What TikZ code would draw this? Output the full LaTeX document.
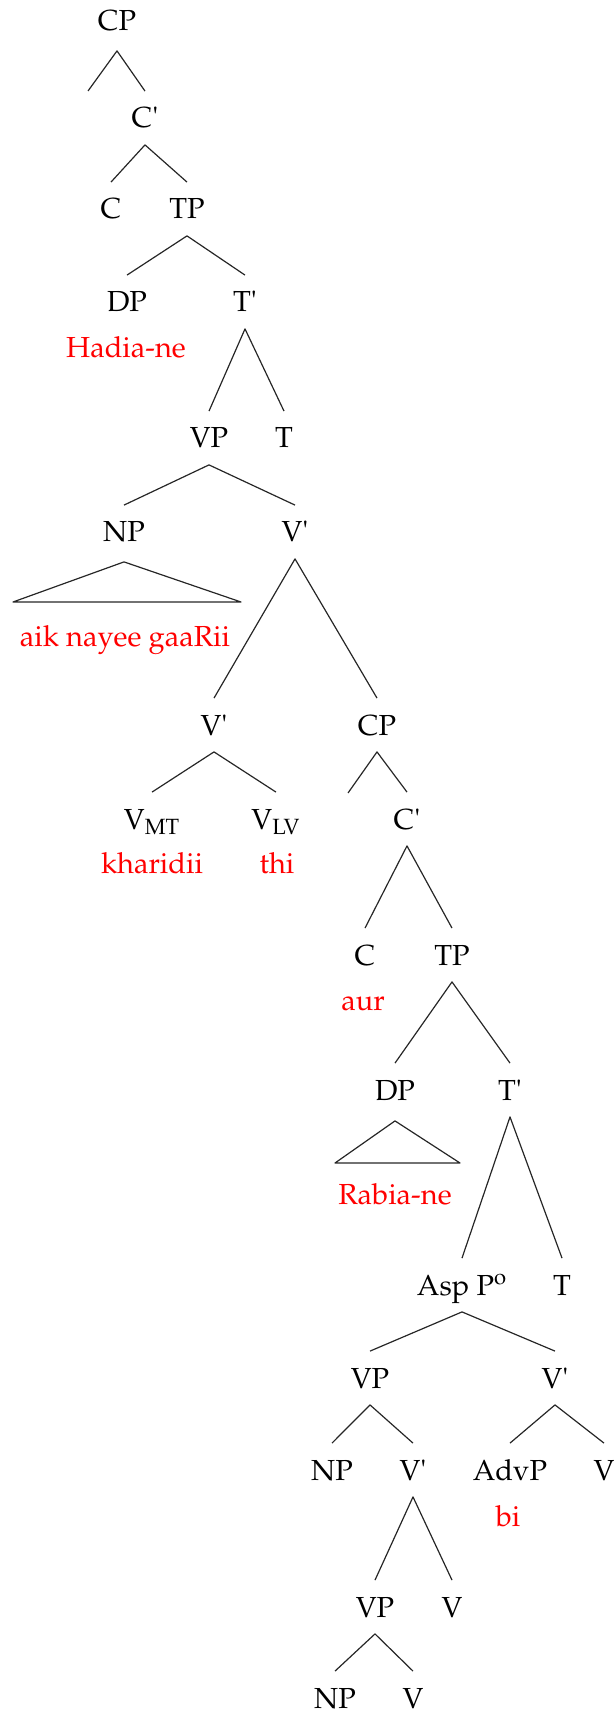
\documentclass[tikz,border=0pt]{standalone}
\usepackage[T1]{fontenc}
\usepackage{mathpazo}
\usepackage{textcomp}
\usepackage{xcolor}
\usepackage{tikz}
\tikzset{
    cat/.style={
        inner xsep = 0pt,
        inner ysep = 8.25pt,
        text height = 10pt,
        text depth = 0pt
    },
    word/.style = {text = red, anchor = base, inner sep = 0pt},
    branch/.style = {line width = 0.6pt, black!85, line join = round}
}
\newcommand{\barlevel}{\textquotesingle}

\begin{document}
\begin{tikzpicture}[x=0.5pt, y=-0.5pt, every node/.style = {font = \fontsize{14.5}{17}\selectfont}]
    \useasboundingbox (0,0) rectangle (614,1716);

    % Matrix clause
    \node[cat] (cp) at (117,21) {CP};
    \coordinate (cpspec) at (88,91);
    \node[cat] (cbar) at (145,118) {C\barlevel};
    \node[cat] (c) at (111,209) {C};
    \node[cat] (tp) at (187,209) {TP};
    \node[cat] (dp) at (127,302) {DP};
    \node[cat] (tbar) at (245,302) {T\barlevel};
    \node[cat] (vp) at (209,438) {VP};
    \node[cat] (t) at (284,438) {T};
    \node[cat] (np) at (124,532) {NP};
    \node[cat] (vbar) at (295,532) {V\barlevel};
    \coordinate (npleft) at (13,602);
    \coordinate (npright) at (241,602);

    % Complex predicate
    \node[cat] (vbarlo) at (214,725) {V\barlevel};
    \node[cat] (vmt) at (152,819) {V\textsubscript{MT}};
    \node[cat] (vlv) at (276,819) {V\textsubscript{LV}};

    % Embedded clause
    \node[cat] (cpb) at (377,725) {CP};
    \coordinate (cpbspec) at (348,793);
    \node[cat] (cbarb) at (407,819) {C\barlevel};
    \node[cat] (cb) at (365,955) {C};
    \node[cat] (tpb) at (452,955) {TP};
    \node[cat] (dpb) at (395,1090) {DP};
    \node[cat] (tbarb) at (510,1090) {T\barlevel};
    \coordinate (dpbleft) at (335,1163);
    \coordinate (dpbright) at (460,1163);
    \node[cat] (asp) at (462,1285) {Asp P\textsuperscript{o}};
    \node[cat] (tb) at (562,1285) {T};
    \node[cat] (vpc) at (370,1378) {VP};
    \node[cat] (vbarc) at (555,1378) {V\barlevel};
    \node[cat] (npc) at (332,1470) {NP};
    \node[cat] (vbard) at (413,1470) {V\barlevel};
    \node[cat] (advp) at (510,1470) {AdvP};
    \node[cat] (vc) at (604,1470) {V};
    \node[cat] (vpd) at (375,1607) {VP};
    \node[cat] (vd) at (452,1607) {V};
    \node[cat] (npd) at (335,1698) {NP};
    \node[cat] (ve) at (413,1698) {V};

    % Branches
    \draw[branch] (cpspec) -- ([yshift=-1.5pt]cp.south) -- (cbar.north);
    \draw[branch] (c.north) -- (cbar.south) -- (tp.north);
    \draw[branch] (dp.north) -- (tp.south) -- (tbar.north);
    \draw[branch] (vp.north) -- (tbar.south) -- (t.north);
    \draw[branch] (np.north) -- (vp.south) -- (vbar.north);
    \draw[branch] (npleft) -- ([yshift=-1.5pt]np.south) -- (npright) -- cycle;
    \draw[branch] (vbarlo.north) -- (vbar.south) -- (cpb.north);
    \draw[branch] (vmt.north) -- (vbarlo.south) -- (vlv.north);
    \draw[branch] (cpbspec) -- (cpb.south) -- (cbarb.north);
    \draw[branch] (cb.north) -- (cbarb.south) -- (tpb.north);
    \draw[branch] (dpb.north) -- (tpb.south) -- (tbarb.north);
    \draw[branch] (dpbleft) -- ([yshift=-2pt]dpb.south) -- (dpbright) -- cycle;
    \draw[branch] (asp.north) -- (tbarb.south) -- (tb.north);
    \draw[branch] (vpc.north) -- (asp.south) -- (vbarc.north);
    \draw[branch] (npc.north) -- (vpc.south) -- (vbard.north);
    \draw[branch] (advp.north) -- (vbarc.south) -- (vc.north);
    \draw[branch] (vpd.north) -- (vbard.south) -- (vd.north);
    \draw[branch] (npd.north) -- (vpd.south) -- (ve.north);

    % Words
    \node[word] (hadia) at (126,358) {Hadia-ne};
    \node[word] (gaari) at (125,646) {aik nayee gaaRii};
    \node[word] (kharidii) at (152,873) {kharidii};
    \node[word] (thi) at (277,873) {thi};
    \node[word] (aur) at (363,1010) {aur};
    \node[word] (rabia) at (395,1204) {Rabia-ne};
    \node[word] (bi) at (508,1526) {bi};

\end{tikzpicture}
\end{document}
